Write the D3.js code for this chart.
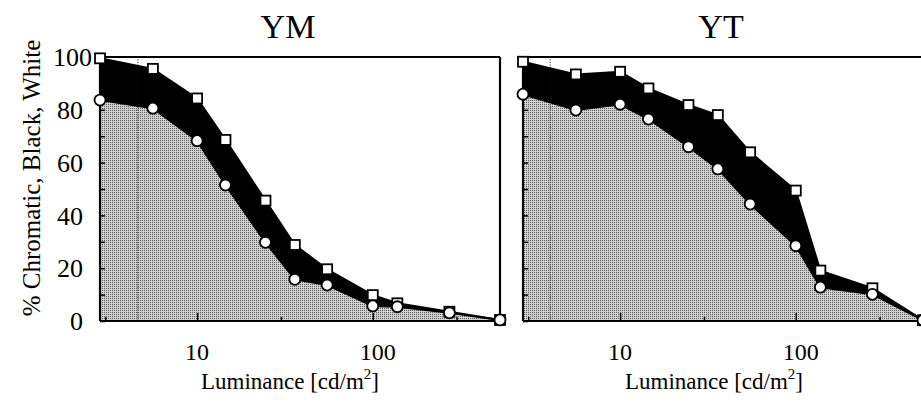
<!DOCTYPE html>
<html>
<head>
<meta charset="utf-8">
<script src="https://cdn.jsdelivr.net/npm/d3@7"></script>
<style>
  html, body { margin: 0; padding: 0; background: #fff; }
  svg { display: block; }
</style>
</head>
<body>
<svg id="chart" width="921" height="403"></svg>
<script>
// Luminance levels (cd/m2), shared by both observers
const luminance = [2.8, 5.6, 10, 14.5, 24.5, 36, 55, 100, 138, 273, 530];

// Observer YM: chromatic + black (upper, squares) and chromatic (lower, circles), %
const ymUpper = [99.5, 95.5, 84.3, 68.6, 45.6, 28.8, 19.6, 9.8, 6.7, 3.5, 0.4];
const ymLower = [83.7, 80.6, 68.3, 51.5, 29.8, 15.8, 13.6, 5.7, 5.4, 3.1, 0.4];

// Observer YT
const ytUpper = [98.2, 93.4, 94.4, 88.1, 81.8, 78.0, 63.9, 49.4, 19.1, 12.4, 0.3];
const ytLower = [85.9, 79.9, 82.1, 76.5, 66.0, 57.6, 44.3, 28.5, 12.8, 10.1, 0.3];

// Dotted reference luminance in each panel
const ymMarker = 4.6;
const ytMarker = 4.0;

const panelTitles = ["YM", "YT"];
const yTickLabels = [0, 20, 40, 60, 80, 100];
const xTickLabels = [10, 100];
const xMinorTicks = [3, 30, 300];
const xAxisTitle = "Luminance [cd/m";
const yAxisTitle = "% Chromatic, Black, White";

const SERIF = "'Liberation Serif', 'Times New Roman', Times, serif";

const svg = d3.select("#chart")
  .attr("font-family", SERIF)
  .style("font-family", SERIF);

// halftone-like grey fill
const defs = svg.append("defs");
const pat = defs.append("pattern")
  .attr("id", "halftone").attr("patternUnits", "userSpaceOnUse")
  .attr("width", 2).attr("height", 2);
pat.append("rect").attr("width", 2).attr("height", 2).attr("fill", "#d2d2d2");
pat.append("rect").attr("width", 1).attr("height", 1).attr("fill", "#5a5a5a");

const panels = [
  { title: panelTitles[0], upper: ymUpper, lower: ymLower, marker: ymMarker, x0: 100, titleX: 288, xTitleX: 290, yLabels: true },
  { title: panelTitles[1], upper: ytUpper, lower: ytLower, marker: ytMarker, x0: 523, titleX: 721, xTitleX: 714, yLabels: false }
];

const plotTop = 57, plotBottom = 321, plotWidth = 400;
const y = d3.scaleLinear().domain([0, 100]).range([plotBottom, plotTop]);

function label(sel) {
  return sel.attr("font-family", SERIF).style("font-family", SERIF).attr("fill", "#000");
}

panels.forEach(p => {
  const x = d3.scaleLog().domain([2.8, 530]).range([p.x0, p.x0 + plotWidth]);
  const g = svg.append("g");
  const pts = luminance.map((l, i) => ({ l, up: p.upper[i], lo: p.lower[i] }));

  // grey area: below the chromatic curve
  g.append("path")
    .datum(pts)
    .attr("fill", "url(#halftone)")
    .attr("d", d3.area().x(d => x(d.l)).y0(y(0)).y1(d => y(d.lo)));

  // black band between the two curves
  g.append("path")
    .datum(pts)
    .attr("fill", "#000")
    .attr("d", d3.area().x(d => x(d.l)).y0(d => y(d.lo)).y1(d => y(d.up)));

  // dotted vertical reference line
  g.append("line")
    .attr("x1", x(p.marker)).attr("x2", x(p.marker))
    .attr("y1", y(100)).attr("y2", y(0))
    .attr("stroke", "#111").attr("stroke-width", 1)
    .attr("stroke-dasharray", "1,1.5");

  // curves
  [d => d.up, d => d.lo].forEach(acc => {
    g.append("path")
      .datum(pts)
      .attr("fill", "none").attr("stroke", "#000").attr("stroke-width", 2)
      .attr("d", d3.line().x(d => x(d.l)).y(d => y(acc(d))));
  });

  // frame
  const frame = g.append("g").attr("stroke", "#000").attr("stroke-width", 2.2).attr("fill", "none");
  frame.append("line").attr("x1", p.x0).attr("x2", p.x0).attr("y1", plotTop).attr("y2", plotBottom);
  frame.append("line").attr("x1", p.x0).attr("x2", p.x0 + plotWidth).attr("y1", plotBottom).attr("y2", plotBottom);
  frame.append("line").attr("x1", p.x0).attr("x2", p.x0 + plotWidth).attr("y1", plotTop).attr("y2", plotTop);
  frame.append("line").attr("x1", p.x0 + plotWidth).attr("x2", p.x0 + plotWidth).attr("y1", plotTop).attr("y2", plotBottom);

  // y axis (inside ticks every 10)
  const yAxis = d3.axisLeft(y).tickValues(d3.range(0, 101, 10)).tickSize(-5).tickFormat("");
  const ya = g.append("g").attr("transform", `translate(${p.x0},0)`).call(yAxis);
  ya.select(".domain").remove();
  ya.selectAll("line").attr("stroke", "#000").attr("stroke-width", 1.5);
  if (p.yLabels) {
    label(g.append("g").selectAll("text").data(yTickLabels).join("text"))
      .attr("x", d => d === 100 ? p.x0 - 8 : p.x0 - 17).attr("y", d => y(d)).attr("dy", "0.35em")
      .attr("text-anchor", "end").attr("font-size", 26).text(d => d);
  }

  // x axis (inside ticks, labelled decades)
  const xa = g.append("g").attr("transform", `translate(0,${plotBottom})`)
    .call(d3.axisBottom(x).tickValues(xTickLabels).tickSize(-8).tickFormat(""));
  xa.select(".domain").remove();
  xa.selectAll("line").attr("stroke", "#000").attr("stroke-width", 1.5);
  const xm = g.append("g").attr("transform", `translate(0,${plotBottom})`)
    .call(d3.axisBottom(x).tickValues(xMinorTicks).tickSize(-4).tickFormat(""));
  xm.select(".domain").remove();
  xm.selectAll("line").attr("stroke", "#000").attr("stroke-width", 1.5);
  label(g.append("g").selectAll("text").data(xTickLabels).join("text"))
    .attr("x", d => x(d) + (d === 100 ? 5 : 0)).attr("y", 360)
    .attr("text-anchor", "middle").attr("font-size", 24).text(d => d);

  // markers: squares (upper) then circles (lower)
  g.append("g").selectAll("rect").data(pts).join("rect")
    .attr("x", d => x(d.l) - 5).attr("y", d => y(d.up) - 5)
    .attr("width", 10).attr("height", 10)
    .attr("fill", "#fff").attr("stroke", "#000").attr("stroke-width", 1.8);
  g.append("g").selectAll("circle").data(pts).join("circle")
    .attr("cx", d => x(d.l)).attr("cy", d => y(d.lo)).attr("r", 5.5)
    .attr("fill", "#fff").attr("stroke", "#000").attr("stroke-width", 1.8);

  // titles
  label(g.append("text")).attr("x", p.titleX).attr("y", 38)
    .attr("text-anchor", "middle").attr("font-size", 34).text(p.title);
  const xt = label(g.append("text")).attr("x", p.xTitleX).attr("y", 389)
    .attr("text-anchor", "middle").attr("font-size", 23);
  xt.append("tspan").text(xAxisTitle);
  xt.append("tspan").attr("font-size", 15).attr("dy", -10).text("2");
  xt.append("tspan").attr("dy", 10).text("]");
});

label(svg.append("text"))
  .attr("transform", "translate(40,178) rotate(-90)")
  .attr("text-anchor", "middle").attr("font-size", 25)
  .text(yAxisTitle);
</script>
</body>
</html>
